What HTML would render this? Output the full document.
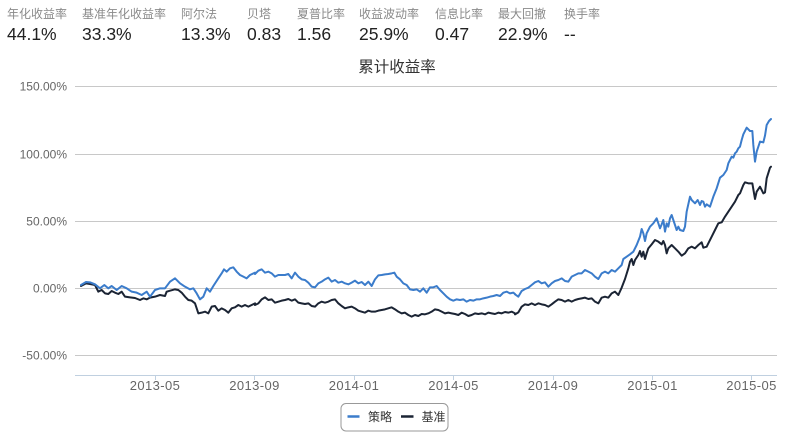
<!DOCTYPE html>
<html>
<head>
<meta charset="utf-8">
<style>
  html, body { margin:0; padding:0; background:#fff; }
  body { width:789px; height:447px; overflow:hidden; }
  svg { display:block; }
  text { font-family: "Liberation Sans", "Noto Sans CJK SC", sans-serif; }
</style>
</head>
<body>
<svg width="789" height="447" viewBox="0 0 789 447" xmlns="http://www.w3.org/2000/svg">
  <!-- Header stats labels -->
  <g font-size="12" fill="#8a8a8a">
    <text x="7" y="18">年化收益率</text>
    <text x="82" y="18">基准年化收益率</text>
    <text x="181" y="18">阿尔法</text>
    <text x="247" y="18">贝塔</text>
    <text x="297" y="18">夏普比率</text>
    <text x="359" y="18">收益波动率</text>
    <text x="435" y="18">信息比率</text>
    <text x="498" y="18">最大回撤</text>
    <text x="564" y="18">换手率</text>
  </g>
  <g font-size="17.5" fill="#222">
    <text x="7" y="40">44.1%</text>
    <text x="82" y="40">33.3%</text>
    <text x="181" y="40">13.3%</text>
    <text x="247" y="40">0.83</text>
    <text x="297" y="40">1.56</text>
    <text x="359" y="40">25.9%</text>
    <text x="435" y="40">0.47</text>
    <text x="498" y="40">22.9%</text>
    <text x="564" y="40">--</text>
  </g>

  <!-- Title -->
  <text x="397" y="72" font-size="15.5" fill="#333" text-anchor="middle">累计收益率</text>

  <!-- Gridlines -->
  <g stroke="#c8c8c8" stroke-width="1">
    <line x1="75" y1="86.5" x2="777" y2="86.5"/>
    <line x1="75" y1="154.5" x2="777" y2="154.5"/>
    <line x1="75" y1="221.5" x2="777" y2="221.5"/>
    <line x1="75" y1="288.5" x2="777" y2="288.5"/>
    <line x1="75" y1="355.5" x2="777" y2="355.5"/>
  </g>
  <!-- X axis -->
  <line x1="75" y1="375.5" x2="777" y2="375.5" stroke="#c0d0e0" stroke-width="1"/>
  <g stroke="#c0d0e0" stroke-width="1">
    <line x1="155.5" y1="375" x2="155.5" y2="380"/>
    <line x1="254.5" y1="375" x2="254.5" y2="380"/>
    <line x1="354.5" y1="375" x2="354.5" y2="380"/>
    <line x1="453.5" y1="375" x2="453.5" y2="380"/>
    <line x1="553.5" y1="375" x2="553.5" y2="380"/>
    <line x1="652.5" y1="375" x2="652.5" y2="380"/>
    <line x1="751.5" y1="375" x2="751.5" y2="380"/>
  </g>

  <!-- Y labels -->
  <g font-size="12" fill="#666" text-anchor="end">
    <text x="67" y="90.5">150.00%</text>
    <text x="67" y="158.5">100.00%</text>
    <text x="67" y="225.5">50.00%</text>
    <text x="67" y="292.5">0.00%</text>
    <text x="67" y="359.5">-50.00%</text>
  </g>
  <!-- X labels -->
  <g font-size="13" fill="#666" text-anchor="middle" letter-spacing="0.4">
    <text x="155" y="390">2013-05</text>
    <text x="254.5" y="390">2013-09</text>
    <text x="354" y="390">2014-01</text>
    <text x="453.5" y="390">2014-05</text>
    <text x="553" y="390">2014-09</text>
    <text x="652.5" y="390">2015-01</text>
    <text x="751.5" y="390">2015-05</text>
  </g>

  <!-- Series segment 1 -->
  <g transform="translate(0 70) scale(0.333333)" fill="none" stroke-linejoin="round" stroke-linecap="round">
    <polyline vector-effect="non-scaling-stroke" stroke="#1b2434" stroke-width="2"
      points="243,648 258,640 270,642 285,645 295,665 305,660 315,670 325,672 335,663 345,668 355,672 365,665 375,680 390,682 405,684 420,690 430,685 440,688 450,683 465,680 480,675 495,678 500,665 510,662 525,658 535,660 545,668 555,680 565,690 575,692 585,700 595,730 605,728 615,725 625,730 635,710 645,708 655,722 665,715 675,720 685,728 695,715 705,712 715,705 725,710 735,705 745,710 755,705 765,700"/>
    <polyline vector-effect="non-scaling-stroke" stroke="#3b7ccb" stroke-width="2"
      points="243,645 258,636 270,637 285,643 300,655 313,645 325,655 335,648 350,660 365,648 380,655 395,665 410,668 425,675 440,665 450,680 465,660 480,655 495,655 510,635 525,625 540,640 555,650 570,658 580,655 590,670 600,688 610,680 620,655 630,665 640,648 655,625 665,610 672,598 680,605 690,595 700,592 710,605 720,615 730,620 740,625 750,615 765,608"/>
  </g>

  <!-- Series segment 2 -->
  <g transform="translate(255 250) scale(0.333333)" fill="none" stroke-linejoin="round" stroke-linecap="round">
    <polyline vector-effect="non-scaling-stroke" stroke="#1b2434" stroke-width="2"
      points="0,165 10,160 20,148 30,142 40,150 50,148 60,158 70,155 80,152 90,150 100,147 110,152 120,148 130,158 140,160 150,162 160,160 170,168 180,170 190,160 200,155 210,158 220,155 230,150 240,148 250,160 260,168 270,175 280,172 290,170 300,175 310,182 320,185 330,188 340,182 350,185 360,185 370,182 380,180 390,178 400,175 410,172 420,178 430,185 440,190 450,188 460,195 470,200 480,195 490,198 500,192 510,193 520,190 530,185 540,178 550,180 560,185 570,190 580,188 590,190 600,192 610,195 620,188 630,192 640,198 650,195 660,190 670,192 680,190 690,193 700,188 710,190 720,192 730,188 740,190 750,186 760,188 770,185 780,190"/>
    <polyline vector-effect="non-scaling-stroke" stroke="#3b7ccb" stroke-width="2"
      points="0,72 10,62 20,58 30,68 40,65 50,70 60,80 70,75 90,75 100,72 110,85 120,68 130,80 140,88 150,90 160,98 170,110 180,112 190,100 200,95 210,88 220,83 230,95 240,90 250,98 260,95 270,100 280,103 290,98 300,92 310,100 320,96 330,105 340,95 350,108 360,88 370,76 380,75 390,73 400,72 410,70 418,68 425,80 435,88 445,100 455,105 465,118 475,120 485,118 495,125 505,115 515,128 525,112 535,112 545,108 555,120 565,130 575,140 585,148 595,152 605,148 615,150 625,148 635,155 645,150 655,152 665,148 675,148 685,145 695,143 705,140 715,138 725,135 735,138 745,128 755,125 765,130 775,128 780,132"/>
  </g>

  <!-- Series segment 3 -->
  <g transform="translate(515 105) scale(0.333333)" fill="none" stroke-linejoin="round" stroke-linecap="round">
    <polyline vector-effect="non-scaling-stroke" stroke="#1b2434" stroke-width="2"
      points="0,628 10,622 20,605 30,598 40,600 50,595 60,600 70,595 80,598 90,600 100,605 110,598 120,590 130,583 140,585 150,590 160,585 170,590 180,585 190,582 200,580 210,578 220,582 230,580 240,590 250,595 260,578 270,575 280,578 290,565 300,560 310,570 320,548 330,522 340,490 345,470 350,462 355,480 360,465 370,450 375,438 380,455 385,440 390,462 395,445 400,430 410,418 420,405 430,410 440,418 445,408 450,420 455,445 460,430 470,420 480,430 490,440 500,452 510,445 520,430 530,425 540,430 550,420 560,412 565,428 575,425 580,415 590,395 600,375 610,355 620,352 630,335 640,320 650,305 660,290 670,270 675,265 685,240 690,232 700,235 712,235 720,282 725,260 735,245 745,265 750,262 755,220 765,188 768,185"/>
    <polyline vector-effect="non-scaling-stroke" stroke="#3b7ccb" stroke-width="2"
      points="0,568 10,575 20,558 30,552 40,548 50,540 60,532 70,528 80,535 90,532 100,545 110,535 120,528 130,525 140,520 150,528 160,530 170,515 180,510 190,505 200,505 210,495 220,500 230,505 240,515 250,522 260,505 270,500 280,505 290,495 300,500 310,490 320,480 325,462 335,455 345,448 355,440 365,420 375,395 380,372 385,385 390,408 395,385 400,375 405,365 415,355 425,340 430,355 435,370 440,358 445,345 450,380 455,355 460,365 465,340 470,330 475,345 480,360 485,375 490,365 495,375 505,378 510,365 515,320 525,275 530,285 540,295 548,285 555,300 560,288 565,290 570,305 575,298 585,305 595,275 605,250 615,218 625,210 635,195 640,175 650,155 655,158 660,145 665,140 670,130 675,125 680,105 685,88 695,68 705,78 712,78 715,120 720,170 725,140 735,110 745,112 750,92 755,60 762,48 768,42"/>
  </g>

  <!-- Legend -->
  <rect x="341" y="403.5" width="107" height="27.5" rx="5" ry="5" fill="#fff" stroke="#999" stroke-width="1"/>
  <line x1="347.5" y1="416.5" x2="359.5" y2="416.5" stroke="#3b7ccb" stroke-width="2.5"/>
  <text x="368" y="421" font-size="12" fill="#333">策略</text>
  <line x1="401" y1="416.5" x2="413.5" y2="416.5" stroke="#1b2434" stroke-width="2.5"/>
  <text x="421.5" y="421" font-size="12" fill="#333">基准</text>
</svg>
</body>
</html>
